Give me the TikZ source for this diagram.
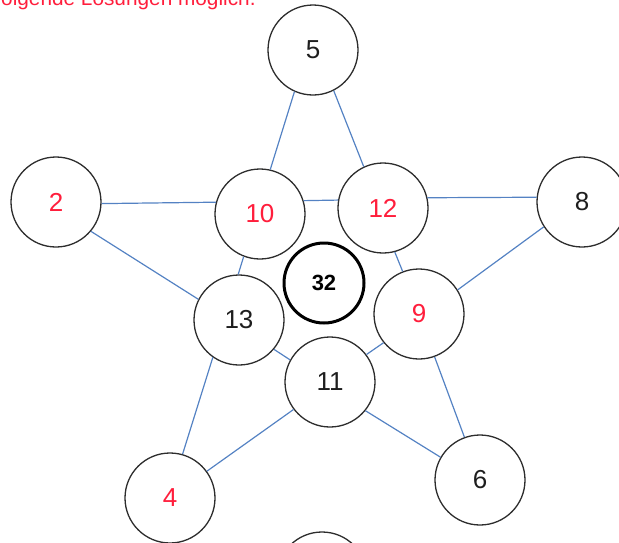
\documentclass[tikz,border=0pt]{standalone}
\usepackage{fontspec}
\setmainfont{Liberation Sans}
\definecolor{numred}{RGB}{255,30,60}
\definecolor{numblack}{RGB}{30,30,30}
\definecolor{lineblue}{RGB}{84,130,195}
\definecolor{ringgray}{RGB}{45,45,45}
\begin{document}
\begin{tikzpicture}[x=1pt,y=-1pt,
  circ/.style={circle,draw=ringgray,line width=1.3pt,fill=white,minimum size=90pt,inner sep=0pt,
    font=\fontsize{26}{30}\selectfont,text=numblack},
  redn/.style={text=numred},
  sumc/.style={circle,draw=black,line width=3pt,fill=white,minimum size=80pt,inner sep=0pt,
    font=\fontsize{22}{26}\selectfont\bfseries,text=black},
  conn/.style={draw=lineblue,line width=1.2pt}]
\useasboundingbox (0,0) rectangle (619,542);
\clip (0,0) rectangle (619,542);
\node[anchor=base west,inner sep=0pt,text=numred,font=\fontsize{20.8}{24}\selectfont] (head) at (1,5.5) {olgende Lösungen möglich.};
\node[circ] (n5) at (313,50) {5};
\node[circ,redn] (n2) at (56,202) {2};
\node[circ] (n8) at (582,202) {8};
\node[circ,redn] (n4) at (170,498) {4};
\node[circ] (n6) at (480,480) {6};
\node[circ,redn] (n10) at (260,214) {10};
\node[circ,redn] (n12) at (383,208) {12};
\node[circ] (n13) at (239,320) {13};
\node[circ,redn] (n9) at (419,314) {9};
\node[circ] (n11) at (330,382) {11};
\node[sumc] (n32) at (324,283) {32};
\node[circ] (nb) at (322,577) {};
% star line 5-10-13-4
\draw[conn] (n5.246) -- (n10.77);
\draw[conn] (n10.249) -- (n13.91);
\draw[conn] (n13.235) -- (n4.74);
% star line 5-12-9-6
\draw[conn] (n5.297) -- (n12.115);
\draw[conn] (n12.285) -- (n9.111);
\draw[conn] (n9.290) -- (n6.110);
% star line 2-10-12-8
\draw[conn] (n2.358) -- (n10.165);
\draw[conn] (n10.17) -- (n12.170);
\draw[conn] (n12.13) -- (n8.174);
% star line 2-13-11-6
\draw[conn] (n2.320) -- (n13.153);
\draw[conn] (n13.320) -- (n11.151);
\draw[conn] (n11.321) -- (n6.150);
% star line 8-9-11-4
\draw[conn] (n8.213) -- (n9.32);
\draw[conn] (n9.219) -- (n11.37);
\draw[conn] (n11.217) -- (n4.36);
\end{tikzpicture}
\end{document}
